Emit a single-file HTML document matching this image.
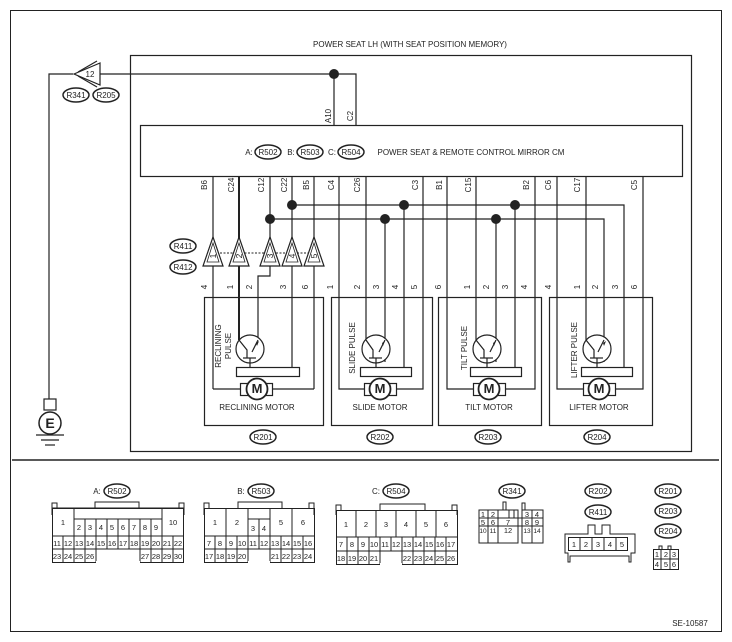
<!DOCTYPE html>
<html><head><meta charset="utf-8"><style>
html,body{margin:0;padding:0;background:#fff}
svg{display:block}
text{font-family:"Liberation Sans",Arial,sans-serif;fill:#222}
</style></head><body>
<svg width="732" height="642" viewBox="0 0 732 642" xmlns="http://www.w3.org/2000/svg">
<g fill="none" stroke="#222" stroke-width="1.2">
<rect x="10.5" y="10.5" width="711" height="621" stroke-width="1"/>
<line x1="12" y1="460" x2="719" y2="460" stroke-width="1.5"/>
<rect x="130.5" y="55.5" width="561" height="396"/>
<rect x="140.5" y="125.5" width="542" height="51"/>
<polyline points="356,125 356,74 100,74"/>
<line x1="334" y1="74" x2="334" y2="125"/>
<polyline points="73,74 49,74 49,399"/>
<polygon points="74,74 100,63 100,85" fill="#fff"/>
<polyline points="78,72 97,61" /><polyline points="78,76 97,87"/>
<rect x="44" y="399" width="12" height="11"/>
<circle cx="50" cy="423" r="11" stroke-width="1.5"/>
<line x1="36" y1="435" x2="64" y2="435"/>
<line x1="41" y1="440" x2="59" y2="440"/>
<line x1="45" y1="445" x2="55" y2="445"/>
<polyline points="292,205 624,205 624,368"/>
<polyline points="270,219 604,219 604,362"/>
<line x1="404" y1="205" x2="404" y2="368"/>
<line x1="515" y1="205" x2="515" y2="368"/>
<line x1="385" y1="219" x2="385" y2="362"/>
<line x1="496" y1="219" x2="496" y2="362"/>
<line x1="213" y1="176" x2="213" y2="389"/>
<polyline points="213,389 240,389"/><polyline points="272,389 314,389"/>
<line x1="239" y1="176" x2="239" y2="340" stroke-width="2"/>
<polyline points="270,176 270,276 258,276 258,340"/>
<line x1="292" y1="176" x2="292" y2="368"/>
<line x1="314" y1="176" x2="314" y2="389"/>
<polyline points="339,176 339,389 364,389"/><polyline points="396,389 423,389 423,176"/>
<line x1="366" y1="176" x2="366" y2="340"/>
<polyline points="447,176 447,389 473,389"/><polyline points="505,389 535,389 535,176"/>
<line x1="476" y1="176" x2="476" y2="340"/>
<polyline points="557,176 557,389 583,389"/><polyline points="615,389 643,389 643,176"/>
<line x1="586" y1="176" x2="586" y2="340"/>
<line x1="220" y1="253" x2="310" y2="253" stroke-dasharray="2,1.5" stroke-width="1"/>
<g fill="#fff">
<polygon points="213,237 203,266 223,266"/><polygon points="239,237 229,266 249,266"/><polygon points="270,237 260,266 280,266"/><polygon points="292,237 282,266 302,266"/><polygon points="314,237 304,266 324,266"/>
</g>
<g stroke-width="0.8">
<polygon points="213,243 207,262 219,262"/><polygon points="239,243 233,262 245,262"/><polygon points="270,243 264,262 276,262"/><polygon points="292,243 286,262 298,262"/><polygon points="314,243 308,262 320,262"/>
</g>
<rect x="204.5" y="297.5" width="119" height="128"/>
<rect x="331.5" y="297.5" width="101" height="128"/>
<rect x="438.5" y="297.5" width="103" height="128"/>
<rect x="549.5" y="297.5" width="103" height="128"/>
<g fill="#fff">
<circle cx="250" cy="349" r="14"/><circle cx="376" cy="349" r="14"/><circle cx="487" cy="349" r="14"/><circle cx="597" cy="349" r="14"/>
</g>
<polyline points="239,340 247,350 247,358"/><polyline points="258,340 252,352"/><line x1="243" y1="358" x2="256" y2="358"/>
<polyline points="366,340 373,350 373,358"/><polyline points="385,340 379,352"/><line x1="369" y1="358" x2="382" y2="358"/>
<polyline points="476,340 484,350 484,358"/><polyline points="496,340 490,352"/><line x1="480" y1="358" x2="493" y2="358"/>
<polyline points="586,340 594,350 594,358"/><polyline points="604,340 598,352"/><line x1="590" y1="358" x2="603" y2="358"/>
<line x1="250" y1="358" x2="250" y2="368"/><line x1="376" y1="358" x2="376" y2="368"/><line x1="487" y1="358" x2="487" y2="368"/><line x1="597" y1="358" x2="597" y2="368"/>
<g fill="#fff">
<rect x="236.5" y="367.5" width="63" height="9"/>
<rect x="360.5" y="367.5" width="51" height="9"/>
<rect x="470.5" y="367.5" width="51" height="9"/>
<rect x="581.5" y="367.5" width="51" height="9"/>
<rect x="240.5" y="383.5" width="32" height="12"/><circle cx="257" cy="389" r="10.5" stroke-width="1.8"/>
<rect x="364.5" y="383.5" width="32" height="12"/><circle cx="380" cy="389" r="10.5" stroke-width="1.8"/>
<rect x="473.5" y="383.5" width="32" height="12"/><circle cx="489" cy="389" r="10.5" stroke-width="1.8"/>
<rect x="583.5" y="383.5" width="32" height="12"/><circle cx="599" cy="389" r="10.5" stroke-width="1.8"/>
</g>
<g stroke-width="1.5">
<ellipse cx="76" cy="95" rx="13" ry="7"/><ellipse cx="106" cy="95" rx="13" ry="7"/>
<ellipse cx="268" cy="152" rx="13" ry="7"/><ellipse cx="310" cy="152" rx="13" ry="7"/><ellipse cx="351" cy="152" rx="13" ry="7"/>
<ellipse cx="183" cy="246" rx="13" ry="7"/><ellipse cx="183" cy="267" rx="13" ry="7"/>
<ellipse cx="263" cy="437" rx="13" ry="7"/><ellipse cx="380" cy="437" rx="13" ry="7"/><ellipse cx="488" cy="437" rx="13" ry="7"/><ellipse cx="597" cy="437" rx="13" ry="7"/>
<ellipse cx="117" cy="491" rx="13" ry="7"/><ellipse cx="261" cy="491" rx="13" ry="7"/><ellipse cx="396" cy="491" rx="13" ry="7"/>
<ellipse cx="512" cy="491" rx="13" ry="7"/><ellipse cx="598" cy="491" rx="13" ry="7"/><ellipse cx="598" cy="512" rx="13" ry="7"/>
<ellipse cx="668" cy="491" rx="13" ry="7"/><ellipse cx="668" cy="511" rx="13" ry="7"/><ellipse cx="668" cy="531" rx="13" ry="7"/>
</g>
<g stroke-width="1">
<path d="M52,515 V503 H57 V508 M184,515 V503 H179 V508 M95,508 V502 H139 V508 M52,508 H184 M74,508 V519 H162 V508"/>
<rect x="52.5" y="508.5" width="131" height="54"/>
<path d="M52,536 H184 M52,549 H184 M74,508 V536 M162,508 V536 M85,519 V549 M96,519 V562 M107,519 V549 M118,519 V549 M129,519 V549 M140,519 V562 M151,519 V549 M63,536 V562 M74,536 V562 M85,549 V562 M151,549 V562 M162,536 V562 M173,536 V562"/>
<line x1="96" y1="562" x2="140" y2="562" stroke="#fff" stroke-width="2"/>
<path d="M204,515 V503 H209 V508 M314,515 V503 H309 V508 M238,508 V502 H282 V508"/>
<rect x="204.5" y="508.5" width="110" height="54"/>
<path d="M204,536 H314 M204,549 H314 M226,508 V536 M248,508 V562 M248,519 H270 M259,519 V536 M270,508 V562 M292,508 V536 M215,536 V562 M226,536 V562 M237,536 V562 M259,536 V549 M281,536 V562 M292,536 V562 M303,536 V562"/>
<line x1="248" y1="562" x2="270" y2="562" stroke="#fff" stroke-width="2"/>
<path d="M336,515 V505 H341 V510 M457,515 V505 H452 V510 M380,510 V504 H425 V510"/>
<rect x="336.5" y="510.5" width="121" height="54"/>
<path d="M336,537 H457 M336,551 H457 M356,510 V537 M376,510 V537 M396,510 V537 M416,510 V537 M436,510 V537 M347,537 V564 M358,537 V564 M369,537 V564 M380,537 V564 M391,537 V551 M402,537 V564 M413,537 V564 M424,537 V564 M435,537 V564 M446,537 V564"/>
<line x1="380" y1="564" x2="402" y2="564" stroke="#fff" stroke-width="2"/>
<path d="M479,510 H518 V543 H479 Z M522,510 H543 V543 H522 Z M479,518 H543 M479,526 H543 M488,510 V543 M498,510 V543 M532,510 V543 M503,510 V502 H506 V510 M509,518 V510 M514,510 V518 M522,510 V503 H525 V510 M518,510 V543"/>
<path d="M565,534 H588 V525 H595 V534 H602 V525 H610 V534 H635 V553 H631 V562 H629 V556 H570 V562 H568 V553 H565 Z"/>
<rect x="568.5" y="537.5" width="59" height="13"/>
<path d="M580,537 V550 M592,537 V550 M604,537 V550 M616,537 V550"/>
<rect x="653.5" y="549.5" width="25" height="20"/>
<path d="M653,559 H678 M661,549 V569 M670,549 V569 M659,549 V546 H662 V549 M668,549 V546 H671 V549"/>
</g>
</g>
<g fill="#222">
<circle cx="334" cy="74" r="5"/>
<circle cx="270" cy="219" r="5"/><circle cx="292" cy="205" r="5"/><circle cx="404" cy="205" r="5"/><circle cx="385" cy="219" r="5"/><circle cx="515" cy="205" r="5"/><circle cx="496" cy="219" r="5"/>
<polygon points="256,343 259,341 257,346"/><polygon points="382,343 385,341 383,346"/><polygon points="493,343 496,341 494,346"/><polygon points="603,343 606,341 604,346"/>
</g>
<g font-size="8" text-anchor="middle">
<text x="410" y="47">POWER SEAT LH (WITH SEAT POSITION MEMORY)</text>
<text x="90" y="77" font-size="8">12</text>
<text x="76" y="98">R341</text><text x="106" y="98">R205</text>
<text x="249" y="155">A:</text><text x="268" y="155">R502</text><text x="291" y="155">B:</text><text x="310" y="155">R503</text><text x="332" y="155">C:</text><text x="351" y="155">R504</text>
<text x="471" y="155">POWER SEAT &amp; REMOTE CONTROL MIRROR CM</text>
<text x="183" y="249">R411</text><text x="183" y="270">R412</text>
<text x="263" y="440">R201</text><text x="380" y="440">R202</text><text x="488" y="440">R203</text><text x="597" y="440">R204</text>
<text x="257" y="410">RECLINING MOTOR</text><text x="380" y="410">SLIDE MOTOR</text><text x="489" y="410">TILT MOTOR</text><text x="599" y="410">LIFTER MOTOR</text>
<text x="257" y="393" font-size="13" font-weight="bold">M</text><text x="380" y="393" font-size="13" font-weight="bold">M</text><text x="489" y="393" font-size="13" font-weight="bold">M</text><text x="599" y="393" font-size="13" font-weight="bold">M</text>
<text x="50" y="428" font-size="14" font-weight="bold">E</text>
<text x="97" y="494">A:</text><text x="117" y="494">R502</text><text x="241" y="494">B:</text><text x="261" y="494">R503</text><text x="376" y="494">C:</text><text x="396" y="494">R504</text>
<text x="512" y="494">R341</text><text x="598" y="494">R202</text><text x="598" y="515">R411</text>
<text x="668" y="494">R201</text><text x="668" y="514">R203</text><text x="668" y="534">R204</text>
<text x="690" y="626">SE-10587</text>
</g>
<g font-size="8" text-anchor="middle">
<text transform="translate(331,116) rotate(-90)">A10</text><text transform="translate(353,116) rotate(-90)">C2</text>
<text transform="translate(207,185) rotate(-90)">B6</text><text transform="translate(234,185) rotate(-90)">C24</text><text transform="translate(264,185) rotate(-90)">C12</text><text transform="translate(287,185) rotate(-90)">C22</text><text transform="translate(309,185) rotate(-90)">B5</text><text transform="translate(334,185) rotate(-90)">C4</text><text transform="translate(360,185) rotate(-90)">C26</text><text transform="translate(418,185) rotate(-90)">C3</text><text transform="translate(442,185) rotate(-90)">B1</text><text transform="translate(471,185) rotate(-90)">C15</text><text transform="translate(529,185) rotate(-90)">B2</text><text transform="translate(551,185) rotate(-90)">C6</text><text transform="translate(580,185) rotate(-90)">C17</text><text transform="translate(637,185) rotate(-90)">C5</text>
<text transform="translate(207,287) rotate(-90)">4</text><text transform="translate(233,287) rotate(-90)">1</text><text transform="translate(252,287) rotate(-90)">2</text><text transform="translate(286,287) rotate(-90)">3</text><text transform="translate(308,287) rotate(-90)">6</text>
<text transform="translate(333,287) rotate(-90)">1</text><text transform="translate(360,287) rotate(-90)">2</text><text transform="translate(379,287) rotate(-90)">3</text><text transform="translate(398,287) rotate(-90)">4</text><text transform="translate(417,287) rotate(-90)">5</text><text transform="translate(441,287) rotate(-90)">6</text>
<text transform="translate(470,287) rotate(-90)">1</text><text transform="translate(489,287) rotate(-90)">2</text><text transform="translate(508,287) rotate(-90)">3</text><text transform="translate(527,287) rotate(-90)">4</text>
<text transform="translate(551,287) rotate(-90)">4</text><text transform="translate(580,287) rotate(-90)">1</text><text transform="translate(598,287) rotate(-90)">2</text><text transform="translate(618,287) rotate(-90)">3</text><text transform="translate(637,287) rotate(-90)">6</text>
<text transform="translate(216,256) rotate(-90)" font-size="8.5">1</text><text transform="translate(242,256) rotate(-90)" font-size="8.5">2</text><text transform="translate(273,256) rotate(-90)" font-size="8.5">3</text><text transform="translate(295,256) rotate(-90)" font-size="8.5">4</text><text transform="translate(317,256) rotate(-90)" font-size="8.5">5</text>
<text transform="translate(221,346) rotate(-90)">RECLINING</text><text transform="translate(231,346) rotate(-90)">PULSE</text>
<text transform="translate(355,348) rotate(-90)">SLIDE PULSE</text>
<text transform="translate(467,348) rotate(-90)">TILT PULSE</text>
<text transform="translate(577,350) rotate(-90)">LIFTER PULSE</text>
</g>
<g font-size="7.5" text-anchor="middle">
<text x="63" y="525">1</text><text x="79" y="530">2</text><text x="90" y="530">3</text><text x="101" y="530">4</text><text x="112" y="530">5</text><text x="123" y="530">6</text><text x="134" y="530">7</text><text x="145" y="530">8</text><text x="156" y="530">9</text><text x="173" y="525">10</text>
<text x="57" y="546">11</text><text x="68" y="546">12</text><text x="79" y="546">13</text><text x="90" y="546">14</text><text x="101" y="546">15</text><text x="112" y="546">16</text><text x="123" y="546">17</text><text x="134" y="546">18</text><text x="145" y="546">19</text><text x="156" y="546">20</text><text x="167" y="546">21</text><text x="178" y="546">22</text>
<text x="57" y="559">23</text><text x="68" y="559">24</text><text x="79" y="559">25</text><text x="90" y="559">26</text><text x="145" y="559">27</text><text x="156" y="559">28</text><text x="167" y="559">29</text><text x="178" y="559">30</text>
<text x="215" y="525">1</text><text x="237" y="525">2</text><text x="253" y="531">3</text><text x="264" y="531">4</text><text x="281" y="525">5</text><text x="303" y="525">6</text>
<text x="209" y="546">7</text><text x="220" y="546">8</text><text x="231" y="546">9</text><text x="242" y="546">10</text><text x="253" y="546">11</text><text x="264" y="546">12</text><text x="275" y="546">13</text><text x="286" y="546">14</text><text x="297" y="546">15</text><text x="308" y="546">16</text>
<text x="209" y="559">17</text><text x="220" y="559">18</text><text x="231" y="559">19</text><text x="242" y="559">20</text><text x="275" y="559">21</text><text x="286" y="559">22</text><text x="297" y="559">23</text><text x="308" y="559">24</text>
<text x="346" y="527">1</text><text x="366" y="527">2</text><text x="386" y="527">3</text><text x="406" y="527">4</text><text x="426" y="527">5</text><text x="446" y="527">6</text>
<text x="341" y="547">7</text><text x="352" y="547">8</text><text x="363" y="547">9</text><text x="374" y="547">10</text><text x="385" y="547">11</text><text x="396" y="547">12</text><text x="407" y="547">13</text><text x="418" y="547">14</text><text x="429" y="547">15</text><text x="440" y="547">16</text><text x="451" y="547">17</text>
<text x="341" y="561">18</text><text x="352" y="561">19</text><text x="363" y="561">20</text><text x="374" y="561">21</text><text x="407" y="561">22</text><text x="418" y="561">23</text><text x="429" y="561">24</text><text x="440" y="561">25</text><text x="451" y="561">26</text>
<text x="483" y="517">1</text><text x="493" y="517">2</text><text x="527" y="517">3</text><text x="537" y="517">4</text>
<text x="483" y="525">5</text><text x="493" y="525">6</text><text x="508" y="525">7</text><text x="527" y="525">8</text><text x="537" y="525">9</text>
<text x="483" y="533" font-size="6.5">10</text><text x="493" y="533" font-size="6.5">11</text><text x="508" y="533">12</text><text x="527" y="533" font-size="6.5">13</text><text x="537" y="533" font-size="6.5">14</text>
<text x="574" y="547">1</text><text x="586" y="547">2</text><text x="598" y="547">3</text><text x="610" y="547">4</text><text x="622" y="547">5</text>
<text x="657" y="557">1</text><text x="666" y="557">2</text><text x="674" y="557">3</text><text x="657" y="567">4</text><text x="666" y="567">5</text><text x="674" y="567">6</text>
</g>
</svg>
</body></html>
